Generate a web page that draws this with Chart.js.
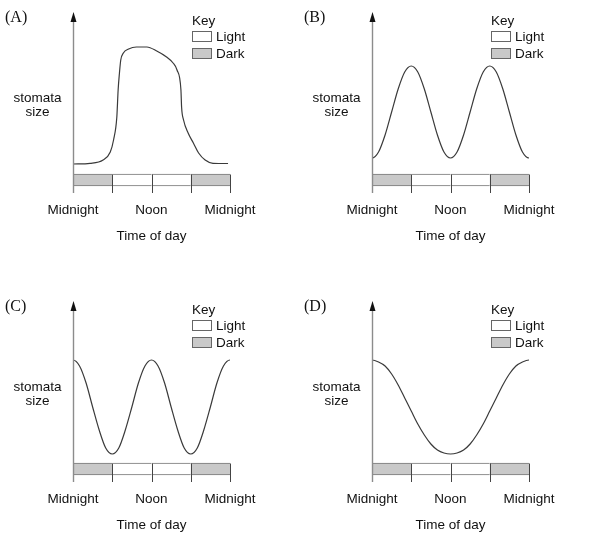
<!DOCTYPE html>
<html><head><meta charset="utf-8">
<script src="https://cdn.jsdelivr.net/npm/chart.js@4.4.1/dist/chart.umd.min.js"></script>
<style>
body{margin:0;background:#fff;}
#wrap{position:relative;width:591px;height:541px;overflow:hidden;font-family:"Liberation Sans",Arial,sans-serif;color:#111;}
#wrap canvas{position:absolute;}
.t{position:absolute;white-space:nowrap;font-size:13.5px;line-height:16px;}
.c{transform:translate(-50%,-50%);}
.l{transform:translate(0,-50%);}
.letter{font-family:"Liberation Serif","Times New Roman",serif;font-size:16px;}
.box{position:absolute;box-sizing:border-box;width:20px;height:11px;border:1px solid #666;}
</style></head>
<body><div id="wrap"></div>
<script>
// ---------- data ----------
const panelLetters = ['(A)', '(B)', '(C)', '(D)'];
const tickHours = [0, 6, 12, 18, 24];
const tickLabels = ['Midnight', '', 'Noon', '', 'Midnight'];
const periodCentres = [3, 9, 15, 21];
const periodTypes = ['Dark', 'Light', 'Light', 'Dark'];
const stripRange = [-12, 0];
const keyTitle = 'Key';
const keyLabels = ['Light', 'Dark'];
const yLabelLines = ['stomata', 'size'];
const xTitle = 'Time of day';

// curves continue just past the axis ends (clipped) so they meet the edges smoothly
const hoursA = [0, 2.6, 4.6, 5.7, 6.2, 6.7, 6.9, 7.1, 7.3, 7.7, 8.5, 9.7, 11.3, 12.8, 14.3, 15.3, 15.9, 16.5, 16.6, 16.9, 17.6, 18.4, 19.2, 20.2, 21.4, 23.7];
const sizeA  = [10, 10.7, 14, 22, 34, 57, 84, 101, 114, 121, 125, 127, 127, 123, 117, 111, 104, 84, 67, 54, 41, 31, 21, 14, 10.7, 10.5];

const hoursB = [-1, 0, 1, 2, 3, 4, 5, 6, 7, 8, 9, 10, 11, 12, 13, 14, 15, 16, 17, 18, 19, 20, 21, 22, 23, 24, 25];
const sizeB  = [22, 16, 22, 39, 62, 85, 102, 108, 102, 85, 62, 39, 22, 16, 22, 39, 62, 85, 102, 108, 102, 85, 62, 39, 22, 16, 22];

const hoursC = [-1, 0, 1, 2, 3, 4, 5, 6, 7, 8, 9, 10, 11, 12, 13, 14, 15, 16, 17, 18, 19, 20, 21, 22, 23, 24, 25];
const sizeC  = [97, 103, 97, 80, 56, 33, 15, 9, 15, 33, 56, 80, 97, 103, 97, 80, 56, 33, 15, 9, 15, 33, 56, 80, 97, 103, 97];

const hoursD = [-1, 0, 1, 2, 3, 4, 5, 6, 7, 8, 9, 10, 11, 12, 13, 14, 15, 16, 17, 18, 19, 20, 21, 22, 23, 24, 25];
const sizeD  = [101, 103, 101, 97, 89, 78, 65, 52, 39, 28, 19, 13, 10, 9, 10, 13, 19, 28, 39, 52, 65, 78, 89, 97, 101, 103, 101];

const seriesHours = [hoursA, hoursB, hoursC, hoursD];
const seriesSize = [sizeA, sizeB, sizeC, sizeD];

// ---------- layout / style ----------
const panelPos = [[0, 0], [299, 0], [0, 289], [299, 289]];
const CW = 292, CH = 252;
const fillFor = {Dark: '#c9c9c9', Light: '#ffffff'};
const wrap = document.getElementById('wrap');

const decor = {
  id: 'decor',
  afterDraw(chart) {
    const {ctx, chartArea: a, scales: {x, y}} = chart;
    ctx.save();
    ctx.strokeStyle = '#444';
    ctx.lineWidth = 1;
    const y0 = Math.round(y.getPixelForValue(stripRange[1])) + 0.5;
    tickHours.forEach(h => {
      const px = Math.round(x.getPixelForValue(h)) + 0.5;
      ctx.beginPath(); ctx.moveTo(px, y0); ctx.lineTo(px, a.bottom); ctx.stroke();
    });
    const ax = Math.round(x.getPixelForValue(0)) + 0.5;
    ctx.strokeStyle = '#8c8c8c';
    ctx.lineWidth = 1.4;
    ctx.beginPath(); ctx.moveTo(ax, a.bottom); ctx.lineTo(ax, a.top + 6); ctx.stroke();
    ctx.fillStyle = '#111';
    ctx.beginPath();
    ctx.moveTo(ax, a.top);
    ctx.lineTo(ax - 3, a.top + 10);
    ctx.lineTo(ax + 3, a.top + 10);
    ctx.closePath(); ctx.fill();
    ctx.restore();
  }
};

function addText(txt, x, y, cls) {
  const d = document.createElement('div');
  d.className = 't ' + cls;
  d.textContent = txt;
  d.style.left = x + 'px';
  d.style.top = y + 'px';
  wrap.appendChild(d);
  return d;
}
function addBox(x, y, color) {
  const b = document.createElement('div');
  b.className = 'box';
  b.style.left = x + 'px';
  b.style.top = y + 'px';
  b.style.background = color;
  wrap.appendChild(b);
}

panelLetters.forEach((letter, i) => {
  const [L, T] = panelPos[i];
  const cv = document.createElement('canvas');
  cv.width = CW; cv.height = CH;
  cv.style.left = L + 'px'; cv.style.top = T + 'px';
  cv.style.width = CW + 'px'; cv.style.height = CH + 'px';
  wrap.appendChild(cv);

  const chart = new Chart(cv, {
    data: {
      datasets: [
        {
          type: 'line',
          data: seriesHours[i].map((h, k) => ({x: h, y: seriesSize[i][k]})),
          borderColor: '#3a3a3a',
          borderWidth: 1.2,
          pointRadius: 0,
          cubicInterpolationMode: 'monotone',
          fill: false
        },
        {
          type: 'bar',
          data: periodCentres.map(c => ({x: c, y: stripRange.slice()})),
          backgroundColor: periodTypes.map(p => fillFor[p]),
          borderColor: '#777',
          borderWidth: {top: 1, bottom: 1, left: 0, right: 0},
          borderSkipped: false,
          barPercentage: 1,
          categoryPercentage: 1,
          grouped: false
        }
      ]
    },
    options: {
      responsive: false,
      animation: false,
      devicePixelRatio: 1,
      events: [],
      layout: {padding: {left: 73, right: CW - 230, top: 12, bottom: CH - 193}},
      plugins: {legend: {display: false}, tooltip: {enabled: false}},
      scales: {
        x: {type: 'linear', min: 0, max: 24, offset: false, display: false, ticks: {stepSize: 6}},
        y: {type: 'linear', min: -19, max: 162, display: false}
      }
    },
    plugins: [decor]
  });

  const sx = chart.scales.x, a = chart.chartArea;
  const axisX = L + sx.getPixelForValue(0);
  addText(letter, L + 5, T + 17, 'l letter');
  tickHours.forEach((h, k) => {
    if (tickLabels[k]) addText(tickLabels[k], L + sx.getPixelForValue(h), T + a.bottom + 16.5, 'c');
  });
  addText(xTitle, L + sx.getPixelForValue(12), T + a.bottom + 43, 'c');
  yLabelLines.forEach((s, k) => addText(s, axisX - 35.5, T + 98 + k * 13.5, 'c'));
  addText(keyTitle, L + 192, T + 21, 'l');
  keyLabels.forEach((s, k) => {
    addBox(L + 192, T + 31 + k * 17, fillFor[s]);
    addText(s, L + 216, T + 36.5 + k * 17, 'l');
  });
});
</script>
</body></html>
